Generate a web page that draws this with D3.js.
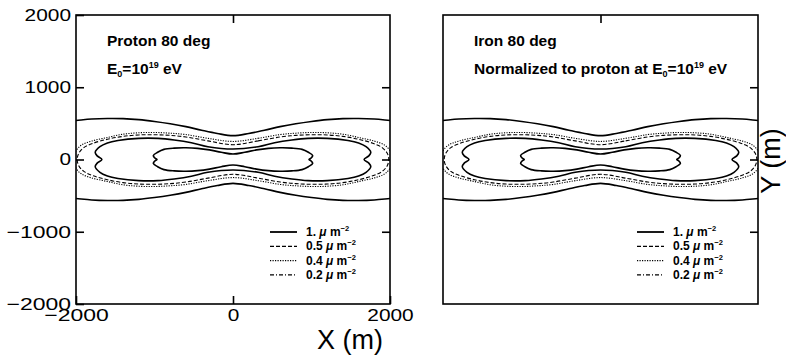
<!DOCTYPE html>
<html><head><meta charset="utf-8">
<script src="https://cdn.jsdelivr.net/npm/d3@7"></script>
<style>
body{margin:0;background:#fff;}
svg{display:block;}
text{font-family:"Liberation Sans",Arial,sans-serif;fill:#000;}
</style></head><body>
<svg id="c" width="786" height="355"></svg>
<script>
// ---- data (upper-right quadrant of each contour, metres; shapes are symmetric in x and y) ----
const xTicks = [-2000, 0, 2000];
const yTicks = [-2000, -1000, 0, 1000, 2000];
const legendLevels = ["1.", "0.5", "0.4", "0.2"];
const legendStyles = ["solid", "dashed", "dotted", "dashdot"];

// outermost solid contour (open, runs past the frame)
const contourOuter = [[0,330],[200,360],[400,405],[600,455],[800,495],[1000,527],[1200,552],[1400,566],[1600,568],[1800,560],[2000,540],[2200,520]];
// 0.4 (dotted)
const contourDotted = [[0,250],[320,293],[600,345],[800,364],[1000,374],[1200,370],[1400,350],[1600,305],[1800,255],[1930,200],[2000,120],[2030,0]];
// 0.5 (dashed)
const contourDashed = [[0,205],[320,258],[600,312],[800,334],[1000,343],[1200,340],[1400,320],[1600,280],[1780,225],[1900,165],[1965,85],[1985,0]];
// inner solid contours
const contourMid = [[0,145],[320,177],[530,232],[750,270],[955,292],[1200,292],[1465,262],[1600,228],[1695,177],[1755,100],[1730,50],[1670,0]];
const contourInner = [[0,76],[150,100],[300,133],[450,154],[600,162],[750,158],[880,140],[960,100],[1015,55],[995,20],[968,0]];

const panels = [
  {x0:76, x1:390, title:"Proton 80 deg", second:"E0", leftTicks:true},
  {x0:443, x1:758, title:"Iron 80 deg", second:"Norm", leftTicks:false}
];

const svg = d3.select("#c");
const yTop = 15, yBot = 304;

const dashes = {solid:null, dashed:"4,2", dotted:"1.2,1.3", dashdot:"4,2,1,2"};
const fmt = d => d < 0 ? "−" + Math.abs(d) : String(d);

function fullLoop(ur){
  return [
    ...ur,
    ...ur.slice(0,-1).reverse().map(([x,y])=>[x,-y]),
    ...ur.slice(1).map(([x,y])=>[-x,-y]),
    ...ur.slice(1,-1).reverse().map(([x,y])=>[-x,y])
  ];
}
function openUpper(ur){
  return [...ur.slice(1).reverse().map(([x,y])=>[-x,y]), ...ur];
}

panels.forEach((p,i)=>{
  const x = d3.scaleLinear().domain([-2000,2000]).range([p.x0,p.x1]);
  const y = d3.scaleLinear().domain([-2000,2000]).range([yBot,yTop]);
  const g = svg.append("g");
  const clipId = "clip"+i;
  svg.append("clipPath").attr("id",clipId).append("rect")
    .attr("x",p.x0).attr("y",yTop).attr("width",p.x1-p.x0).attr("height",yBot-yTop);

  const cg = g.append("g").attr("clip-path",`url(#${clipId})`);
  const lineC = d3.line().x(d=>x(d[0])).y(d=>y(d[1])).curve(d3.curveCatmullRomClosed.alpha(0.5));
  const lineO = d3.line().x(d=>x(d[0])).y(d=>y(d[1])).curve(d3.curveCatmullRom.alpha(0.5));

  const up = openUpper(contourOuter);
  [up, up.map(([a,b])=>[a,-b])].forEach(pts=>{
    cg.append("path").attr("d",lineO(pts)).attr("fill","none").attr("stroke","#000").attr("stroke-width",1.6);
  });
  cg.append("path").attr("d",lineC(fullLoop(contourDotted))).attr("fill","none").attr("stroke","#000")
    .attr("stroke-width",1.1).attr("stroke-dasharray",dashes.dotted);
  cg.append("path").attr("d",lineC(fullLoop(contourDashed))).attr("fill","none").attr("stroke","#000")
    .attr("stroke-width",1.1).attr("stroke-dasharray",dashes.dashed);
  [contourMid, contourInner].forEach(c=>{
    cg.append("path").attr("d",lineC(fullLoop(c))).attr("fill","none").attr("stroke","#000").attr("stroke-width",1.6);
  });

  // frame
  g.append("rect").attr("x",p.x0).attr("y",yTop).attr("width",p.x1-p.x0).attr("height",yBot-yTop)
    .attr("fill","none").attr("stroke","#000").attr("stroke-width",1.6);

  // axes (inward ticks)
  const styleAxis = sel=>{ sel.select(".domain").remove(); sel.selectAll(".tick line").attr("stroke-width",1.6); };
  const styleLabels = sel=>sel.selectAll(".tick text").attr("font-size",17)
      .attr("font-family","Liberation Sans, Arial, sans-serif")
      .attr("textLength",function(){const t=this.textContent;return t.replace("−","").length*11.6+(t.includes("−")?18:0);})
      .attr("lengthAdjust","spacingAndGlyphs");
  if(p.leftTicks){
    const ax = g.append("g").attr("transform",`translate(${p.x0},0)`)
      .call(d3.axisLeft(y).tickValues(yTicks).tickSize(-8).tickPadding(5).tickFormat(fmt));
    styleAxis(ax); styleLabels(ax);
    const bx = g.append("g").attr("transform",`translate(0,${yBot})`)
      .call(d3.axisBottom(x).tickValues(xTicks).tickSize(-8).tickPadding(5).tickFormat(fmt));
    styleAxis(bx); styleLabels(bx);
  }
  const tx = g.append("g").attr("transform",`translate(0,${yTop})`)
    .call(d3.axisTop(x).tickValues([0]).tickSize(-8).tickFormat(""));
  styleAxis(tx);
  const rx = g.append("g").attr("transform",`translate(${p.x1},0)`)
    .call(d3.axisRight(y).tickValues([-1000,0,1000]).tickSize(-8).tickFormat(""));
  styleAxis(rx);

  // annotations
  const tx0 = p.x0 + 31;
  g.append("text").attr("x",tx0).attr("y",46).attr("font-size",15.5).attr("font-weight","bold").text(p.title);
  const t2 = g.append("text").attr("x",tx0).attr("y",74).attr("font-size",15.5).attr("font-weight","bold");
  if(p.second==="Norm") t2.append("tspan").text("Normalized to proton at ");
  t2.append("tspan").text("E");
  t2.append("tspan").attr("font-size",9).attr("dy",3).text("0");
  t2.append("tspan").attr("dy",-3).text("=10");
  t2.append("tspan").attr("font-size",9).attr("dy",-6).text("19");
  t2.append("tspan").attr("dy",6).text(" eV");

  // legend
  const lx = p.x0 + 194, ly0 = 232;
  legendLevels.forEach((lv,k)=>{
    const yy = ly0 + k*14.3;
    g.append("line").attr("x1",lx).attr("x2",lx+27).attr("y1",yy).attr("y2",yy)
      .attr("stroke","#000").attr("stroke-width",k===0?1.8:1.2)
      .attr("stroke-dasharray",dashes[legendStyles[k]]);
    const t = g.append("text").attr("x",lx+36).attr("y",yy+4).attr("font-size",12).attr("font-weight","bold");
    t.append("tspan").text(lv+" ");
    t.append("tspan").attr("font-style","italic").text("μ");
    t.append("tspan").text(" m");
    t.append("tspan").attr("font-size",7.5).attr("dy",-5).text("−2");
  });
});

svg.append("text").attr("x",350).attr("y",349).attr("text-anchor","middle").attr("font-size",27).text("X (m)");
svg.append("text").attr("transform","translate(780,161) rotate(-90)").attr("text-anchor","middle").attr("font-size",27).text("Y (m)");
</script>
</body></html>
